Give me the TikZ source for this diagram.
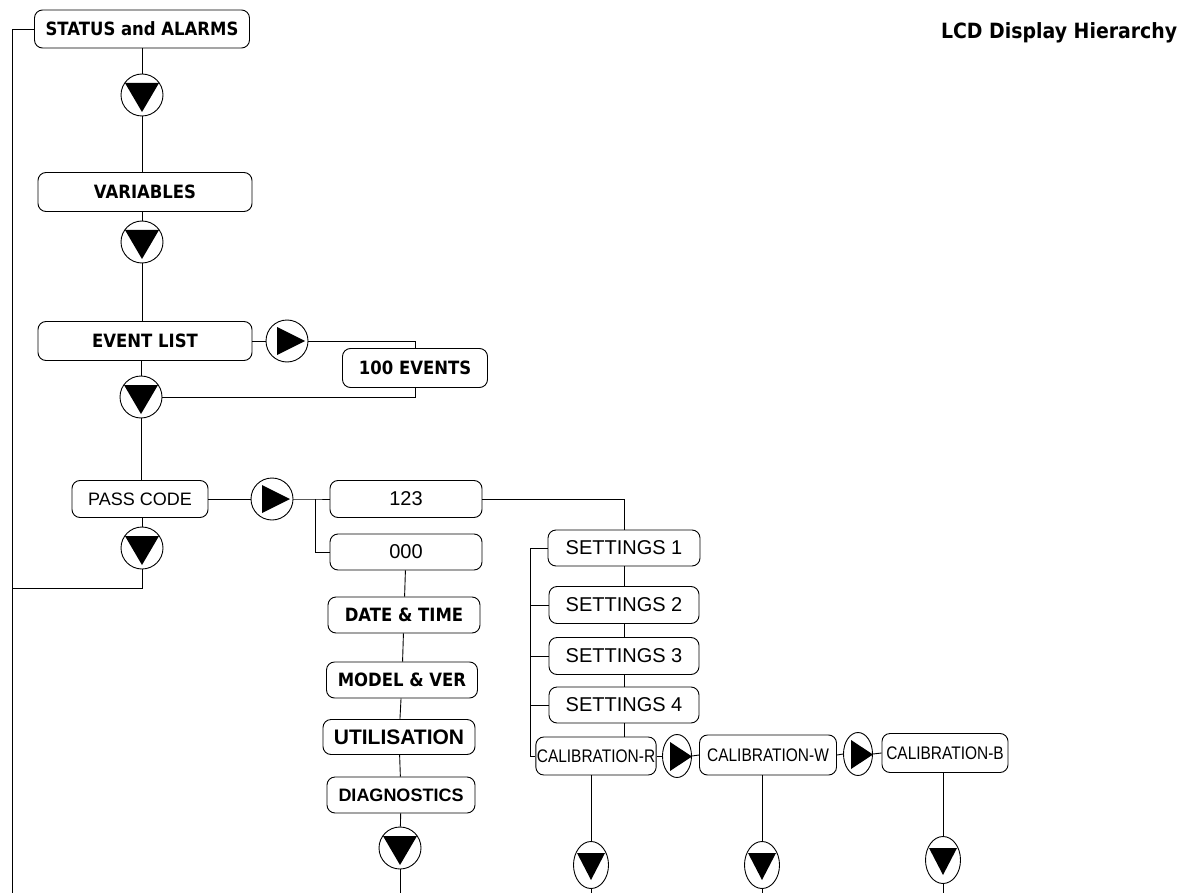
\documentclass[tikz,border=0pt]{standalone}
\usepackage{fontspec}
\setmainfont{Liberation Sans}
\newfontfamily\lcdfont{DejaVu Sans}[FakeStretch=0.9]
\newfontfamily\calfont{Liberation Sans}[FakeStretch=0.85]
\usetikzlibrary{shapes.geometric}
\newcommand{\lcdsize}[1]{\fontsize{#1}{#1}\selectfont}

\begin{document}
\begin{tikzpicture}[x=1pt, y=-1pt, line width=0.9pt]
    % Styles
    \tikzstyle{screen} = [rectangle, rounded corners=8pt, draw=black, text centered, inner sep=1pt]
    \tikzstyle{menu} = [screen, font=\lcdfont\bfseries\lcdsize{18.3}]
    \tikzstyle{plain} = [screen, font=\lcdsize{20}]
    \tikzstyle{calib} = [screen, font=\calfont\lcdsize{18.2}]
    \tikzstyle{keydown} = [circle, draw=black, minimum size=42pt, inner sep=0pt,
        path picture={\fill (path picture bounding box.center) ++(-17,-12) -- ++(34,0) -- ++(-17,29) -- cycle;}]
    \tikzstyle{keyright} = [circle, draw=black, minimum size=42pt, inner sep=0pt,
        path picture={\fill (path picture bounding box.center) ++(-10,-14) -- ++(0,28) -- ++(28,-14) -- cycle;}]
    \tikzstyle{slimright} = [ellipse, draw=black, minimum width=29pt, minimum height=43pt, inner sep=0pt,
        path picture={\fill (path picture bounding box.center) ++(-7,-14) -- ++(0,29) -- ++(22,-14.5) -- cycle;}]
    \tikzstyle{slimdown} = [ellipse, draw=black, minimum width=35pt, minimum height=47pt, inner sep=0pt,
        path picture={\fill (path picture bounding box.center) ++(-14,-12) -- ++(28,0) -- ++(-14,27) -- cycle;}]

    \useasboundingbox (0,0) rectangle (1193,893);

    % Title
    \node (title) [font=\lcdfont\bfseries\lcdsize{21}, anchor=east] at (1181,33) {LCD Display Hierarchy};

    % Main column
    \node (status) [menu, minimum width=215pt, minimum height=38pt] at (142,29) {STATUS and ALARMS};
    \node (d1) [keydown] at (142,95) {};
    \node (vars) [menu, minimum width=214pt, minimum height=39pt] at (145,192) {VARIABLES};
    \node (d2) [keydown] at (142,242) {};
    \node (events) [menu, minimum width=214pt, minimum height=39pt] at (145,341) {EVENT LIST};
    \node (r1) [keyright] at (287,341) {};
    \node (hundred) [menu, minimum width=145pt, minimum height=39pt] at (415,368) {100 EVENTS};
    \node (d3) [keydown] at (141,397) {};
    \node (pass) [plain, font=\lcdsize{18}, minimum width=136pt, minimum height=37pt] at (140,499) {PASS CODE};
    \node (r2) [keyright] at (272,499) {};
    \node (d4) [keydown] at (142,548) {};

    % Pass codes
    \node (c123) [plain, minimum width=152pt, minimum height=37pt] at (406,499) {123};
    \node (c000) [plain, minimum width=152pt, minimum height=36pt] at (406,552) {000};
    \node (date) [menu, minimum width=152pt, minimum height=36pt] at (404,615) {DATE \& TIME};
    \node (model) [menu, minimum width=151pt, minimum height=36pt] at (402,680) {MODEL \& VER};
    \node (util) [screen, font=\bfseries\lcdsize{21}, minimum width=152pt, minimum height=35pt] at (399,737) {UTILISATION};
    \node (diag) [screen, font=\bfseries\lcdsize{18}, minimum width=148pt, minimum height=36pt] at (401,795) {DIAGNOSTICS};
    \node (dd) [keydown] at (400,848) {};

    % Settings
    \node (set1) [plain, minimum width=152pt, minimum height=36pt] at (624,548) {SETTINGS 1};
    \node (set2) [plain, minimum width=150pt, minimum height=37pt] at (624,605) {SETTINGS 2};
    \node (set3) [plain, minimum width=150pt, minimum height=37pt] at (624,656) {SETTINGS 3};
    \node (set4) [plain, minimum width=150pt, minimum height=36pt] at (624,705) {SETTINGS 4};

    % Calibration
    \node (calr) [calib, minimum width=119pt, minimum height=38pt] at (596,756) {CALIBRATION-R};
    \node (e1) [slimright] at (677,756) {};
    \node (calw) [calib, minimum width=137pt, minimum height=40pt] at (768,755) {CALIBRATION-W};
    \node (e2) [slimright] at (858,754) {};
    \node (calb) [calib, minimum width=126pt, minimum height=39pt] at (945,753) {CALIBRATION-B};
    \node (b1) [slimdown] at (591,865) {};
    \node (b2) [slimdown] at (762,865) {};
    \node (b3) [slimdown] at (943,860) {};

    % Free ends
    \coordinate (rail) at (12,29);
    \coordinate (railend) at (12,893);
    \coordinate (back) at (12,588);
    \coordinate (fork) at (315,499);
    \coordinate (bar) at (530,548);
    \coordinate (ddend) at (400,893);
    \coordinate (b1end) at (591,893);
    \coordinate (b2end) at (762,893);
    \coordinate (b3end) at (943,893);

    % Lines
    \draw (status.west) -- (rail) -- (railend);
    \draw (status.south -| d1) -- (d1.north);
    \draw (d1.south) -- (d1.south |- vars.north);
    \draw (vars.south -| d2) -- (d2.north);
    \draw (d2.south) -- (d2.south |- events.north);
    \draw (events.east) -- (r1.west);
    \draw (r1.east) -| (hundred.north);
    \draw (d3.east) -| (hundred.south);
    \draw (events.south -| d3) -- (d3.north);
    \draw (d3.south) -- (d3.south |- pass.north);
    \draw (pass.east) -- (r2.west);
    \draw (r2.east) -- (fork) -- (c123.west);
    \draw (fork) |- (c000.west);
    \draw (pass.south -| d4) -- (d4.north);
    \draw (d4.south) |- (back);

    \draw (c000) -- (date);
    \draw (date) -- (model);
    \draw (model) -- (util);
    \draw (util) -- (diag);
    \draw (diag) -- (dd);
    \draw (dd.south) -- (ddend);

    \draw (c123.east) -| (set1.north);
    \draw (set1) -- (set2);
    \draw (set2) -- (set3);
    \draw (set3) -- (set4);
    \draw (set4.south) -- (set4.south |- calr.north);
    \draw (set1.west) -- (bar) |- (calr.west);
    \foreach \s in {set2,set3,set4}
        \draw (\s.west) -- (\s.west -| bar);

    \draw (calr.east) -- (e1.west);
    \draw (e1.east) -- (calw.west);
    \draw (calw.east) -- (e2.west);
    \draw (e2.east) -- (calb.west);
    \draw (calr.south -| b1) -- (b1.north);
    \draw (b1.south) -- (b1end);
    \draw (calw.south -| b2) -- (b2.north);
    \draw (b2.south) -- (b2end);
    \draw (calb.south -| b3) -- (b3.north);
    \draw (b3.south) -- (b3end);

\end{tikzpicture}
\end{document}
